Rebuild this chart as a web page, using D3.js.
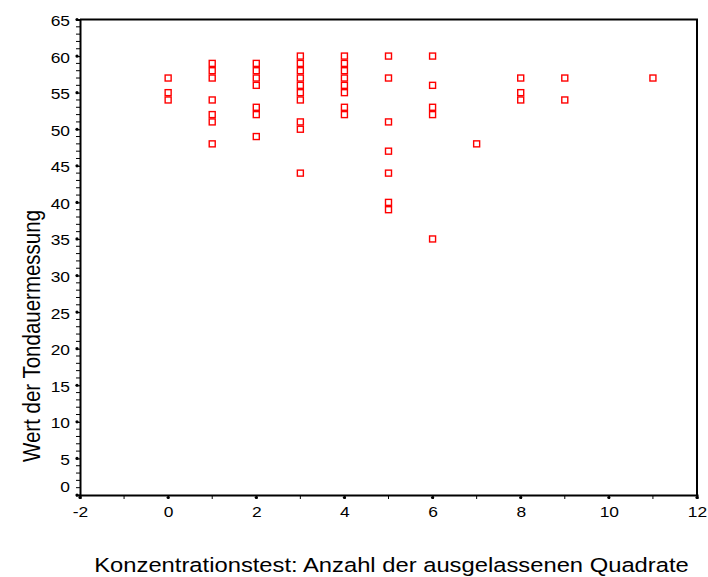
<!DOCTYPE html>
<html>
<head>
<meta charset="utf-8">
<script src="https://cdn.jsdelivr.net/npm/d3@7"></script>
<style>
  html, body { margin: 0; padding: 0; background: #fff; }
  svg { display: block; font-family: "Liberation Sans", Arial, sans-serif; }
</style>
</head>
<body>
<svg id="chart" width="708" height="577"></svg>
<script>
// ---- data ----
const xValues = [0,0,0,
  1,1,1,1,1,1,1,
  2,2,2,2,2,2,2,
  3,3,3,3,3,3,3,3,3,3,
  4,4,4,4,4,4,4,4,
  5,5,5,5,5,5,5,
  6,6,6,6,6,
  7,
  8,8,8,
  9,9,
  11];
const yValues = [57,55,54,
  59,58,57,54,52,51,48,
  59,58,57,56,53,52,49,
  60,59,58,57,56,55,54,51,50,44,
  60,59,58,57,56,55,53,52,
  60,57,51,47,44,40,39,
  60,56,53,52,35,
  48,
  57,55,54,
  57,54,
  57];
const xTicks = [-2,0,2,4,6,8,10,12];
const yTicks = [0,5,10,15,20,25,30,35,40,45,50,55,60,65];
const xTitle = "Konzentrationstest: Anzahl der ausgelassenen Quadrate";
const yTitle = "Wert der Tondauermessung";

// ---- layout ----
const svg = d3.select("#chart");
const L = 80, R = 697, T = 19.5, B = 495;
const SX = 1.16; // horizontal stretch of the text in the reference

const x = d3.scaleLinear().domain([-2, 12]).range([L, R]);
const y = d3.scaleLinear().domain([0, 65]).range([B, T]);

// frame (top and right)
svg.append("path")
  .attr("d", `M${L},${T}H${R}V${B}`)
  .attr("fill", "none").attr("stroke", "#000").attr("stroke-width", 2);

// minor ticks
const yMinor = d3.range(0, 66, 1).filter(v => v % 5 !== 0);
const xMinor = d3.range(-2, 13, 1).filter(v => v % 2 !== 0);

const yAxisG = svg.append("g").attr("transform", `translate(${L},0)`);
yAxisG.selectAll("line.minor").data(yMinor).join("line")
  .attr("x1", -4).attr("x2", 0)
  .attr("y1", d => y(d)).attr("y2", d => y(d))
  .attr("stroke", "#000").attr("stroke-width", 1);
const yAx = d3.axisLeft(y).tickValues(yTicks).tickSize(4).tickPadding(6).tickFormat(d => String(d));
yAxisG.append("g").call(yAx);

const xAxisG = svg.append("g").attr("transform", `translate(0,${B})`);
xAxisG.selectAll("line.minor").data(xMinor).join("line")
  .attr("x1", d => x(d)).attr("x2", d => x(d))
  .attr("y1", 0).attr("y2", 4)
  .attr("stroke", "#000").attr("stroke-width", 1);
const xAx = d3.axisBottom(x).tickValues(xTicks).tickSize(4).tickPadding(4).tickFormat(d => String(d));
xAxisG.append("g").call(xAx);

// style axes
svg.selectAll(".domain").attr("stroke", "#000").attr("stroke-width", 2);
svg.selectAll(".tick line").attr("stroke", "#000").attr("stroke-width", 1.2);
svg.selectAll(".tick text").attr("fill", "#000").attr("font-size", 15)
  .attr("font-family", "'Liberation Sans', Arial, sans-serif");

// dots on major ticks
yAxisG.selectAll("circle.maj").data(yTicks).join("circle")
  .attr("cx", -3).attr("cy", d => y(d)).attr("r", 1.6).attr("fill", "#000");
xAxisG.selectAll("circle.maj").data(xTicks).join("circle")
  .attr("cx", d => x(d)).attr("cy", 2.5).attr("r", 1.6).attr("fill", "#000");

// horizontally stretched tick labels
yAxisG.selectAll(".tick text").each(function(d) {
  const t = d3.select(this);
  const tx = -10;
  const dy = d === 0 ? -7 : 2;
  t.attr("x", null).attr("dy", null).attr("text-anchor", "end")
   .attr("dominant-baseline", "middle")
   .attr("transform", `translate(${tx},${dy}) scale(${SX},1)`);
});
xAxisG.selectAll(".tick text").each(function(d) {
  const t = d3.select(this);
  t.attr("y", null).attr("dy", null).attr("text-anchor", "middle")
   .attr("transform", `translate(0,22) scale(${SX},1)`);
});

// points
svg.append("g").selectAll("rect").data(xValues.map((v, i) => [v, yValues[i]])).join("rect")
  .attr("x", d => x(d[0]) - 3).attr("y", d => y(d[1]) - 3)
  .attr("width", 6).attr("height", 6)
  .attr("fill", "#fff").attr("stroke", "#ff0000").attr("stroke-width", 1.4);

// titles
svg.append("text")
  .attr("transform", `translate(${(L + R) / 2 + 3},572) scale(${SX},1)`)
  .attr("text-anchor", "middle").attr("font-size", 20.5).attr("fill", "#000")
  .text(xTitle);
svg.append("text")
  .attr("transform", `translate(40,336) scale(${SX},1) rotate(-90)`)
  .attr("text-anchor", "middle").attr("font-size", 20.5).attr("fill", "#000")
  .text(yTitle);
</script>
</body>
</html>
